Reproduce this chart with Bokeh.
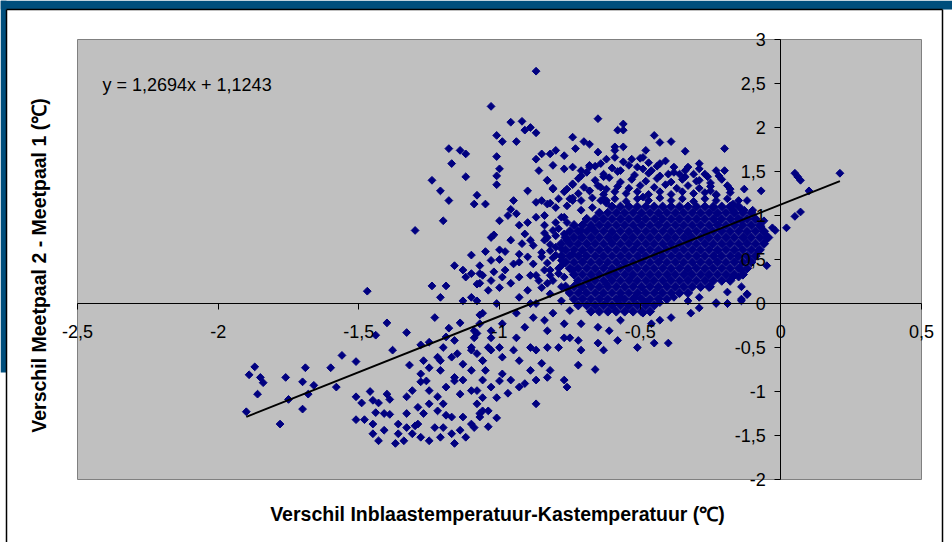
from bokeh.plotting import figure
from bokeh.models import FixedTicker, Label, Range1d
from bokeh.embed import file_html
from bokeh.resources import INLINE

# ---- axis ticks / labels ----
x_ticks = [-2.5, -2.0, -1.5, -1.0, -0.5, 0.0, 0.5]
x_tick_labels = ["-2,5", "-2", "-1,5", "-1", "-0,5", "0", "0,5"]
y_ticks = [-2.0, -1.5, -1.0, -0.5, 0.0, 0.5, 1.0, 1.5, 2.0, 2.5, 3.0]
y_tick_labels = ["-2", "-1,5", "-1", "-0,5", "0", "0,5", "1", "1,5", "2", "2,5", "3"]

x_title = "Verschil Inblaastemperatuur-Kastemperatuur (\u2103)"
y_title = "Verschil Meetpaal 2 - Meetpaal 1 (\u2103)"

trend_slope = 1.2694
trend_intercept = 1.1243
trend_text = "y = 1,2694x + 1,1243"

# ---- scatter data (x, y) ----
left_tail = [
    (-1.47, 0.14), (-1.87, -0.72), (-1.89, -0.81), (-1.85, -0.84), (-1.84, -0.90),
    (-1.86, -1.03), (-1.90, -1.23), (-1.76, -0.84), (-1.69, -0.73), (-1.70, -0.89),
    (-1.66, -0.93), (-1.68, -1.03), (-1.75, -1.09), (-1.70, -1.20), (-1.78, -1.37),
    (-1.60, -0.73), (-1.56, -0.59), (-1.58, -0.95), (-1.51, -0.66), (-1.40, -0.22),
    (-1.33, -0.33), (-1.44, -0.36), (-1.38, -0.53), (-1.30, 0.83),
]

lower_cluster = [
    (-1.51, -1.06), (-1.49, -1.13), (-1.46, -1.00), (-1.51, -1.32), (-1.48, -1.32),
    (-1.45, -1.10), (-1.43, -1.13), (-1.40, -1.03), (-1.39, -1.09), (-1.44, -1.24),
    (-1.41, -1.25), (-1.39, -1.26), (-1.45, -1.37), (-1.45, -1.48), (-1.43, -1.56),
    (-1.41, -1.44), (-1.36, -1.37), (-1.36, -1.48), (-1.34, -1.56), (-1.33, -1.41),
    (-1.33, -1.25), (-1.31, -1.48), (-1.29, -1.37), (-1.28, -1.52), (-1.25, -1.56),
    (-1.23, -1.41), (-1.21, -1.52), (-1.20, -1.41), (-1.17, -1.48), (-1.16, -1.59),
    (-1.14, -1.44), (-1.12, -1.52), (-1.10, -1.37), (-1.13, -1.29), (-1.17, -1.29),
    (-1.22, -1.22), (-1.27, -1.25), (-1.25, -1.14), (-1.20, -1.14), (-1.29, -1.18),
    (-1.33, -1.06), (-1.31, -0.99), (-1.28, -0.89), (-1.28, -0.80), (-1.27, -0.65),
    (-1.28, -0.47), (-1.25, -0.44), (-1.25, -0.73), (-1.22, -0.61), (-1.21, -0.76),
    (-1.20, -0.50), (-1.19, -0.38), (-1.17, -0.61), (-1.15, -0.57), (-1.13, -0.69),
    (-1.10, -0.50), (-1.08, -0.34), (-1.09, -0.31), (-1.16, -0.84), (-1.13, -0.87),
    (-1.10, -0.76), (-1.19, -0.95), (-1.14, -1.03), (-1.08, -0.99), (-1.06, -0.87),
    (-1.06, -0.65), (-1.04, -0.50), (-1.06, -1.22), (-1.07, -1.29), (-1.25, -0.99),
    (-1.22, -1.06), (-1.13, 0.03), (-1.10, 0.07), (-1.12, 0.30), (-1.07, 0.34),
    (-1.08, 0.22), (-1.07, -0.13), (-1.04, 0.15), (-1.24, 0.20), (-1.19, 0.20),
    (-1.21, 0.07), (-1.23, -0.16), (-1.14, -0.22), (-1.18, -0.28), (-1.32, -0.70),
    (-1.26, -0.88), (-1.21, -0.65), (-1.16, -0.88), (-1.10, -0.99), (-1.19, -1.27),
    (-1.30, -1.39), (-1.37, -1.59), (-1.05, -0.76), (-1.00, -0.88), (-1.16, -0.42),
    (-1.10, -0.53), (-1.03, -0.31),
]

upper_scatter = [
    (-0.87, 2.64), (-1.03, 2.24), (-0.96, 2.06), (-0.92, 2.07), (-0.91, 1.97),
    (-0.89, 2.00), (-0.87, 1.94), (-1.01, 1.91), (-0.99, 1.84), (-0.94, 1.84),
    (-0.65, 2.10), (-1.18, 1.76), (-1.14, 1.74), (-1.12, 1.70), (-1.17, 1.59),
    (-1.01, 1.67), (-1.00, 1.53), (-1.12, 1.44), (-1.24, 1.40), (-1.01, 1.45),
    (-1.01, 1.35), (-1.21, 1.28), (-1.18, 1.17), (-1.08, 1.23), (-1.09, 1.13),
    (-1.05, 1.13), (-1.20, 0.94), (-0.95, 1.17), (-0.96, 1.07), (-0.97, 1.00),
    (-0.94, 1.02), (-0.90, 0.92), (-0.87, 1.15), (-0.87, 0.98), (-0.84, 1.00),
    (-0.83, 1.13), (-0.80, 1.09), (-0.79, 1.19), (-0.76, 1.30), (-0.81, 1.30),
    (-0.86, 1.51), (-0.87, 1.64), (-0.85, 1.70), (-0.83, 1.40), (-0.80, 1.74),
    (-0.77, 1.68), (-0.81, 1.57), (-0.77, 1.53), (-0.74, 1.89), (-0.73, 1.76),
    (-0.70, 1.84), (-0.68, 1.81), (-0.65, 1.72), (-0.74, 1.55), (-0.71, 1.45),
    (-0.68, 1.55), (-0.64, 1.59), (-0.59, 1.74), (-0.58, 1.97), (-0.63, 1.44),
    (-0.68, 1.28), (-0.64, 1.17), (-0.67, 1.09), (-0.62, 1.17), (-0.74, 1.17),
    (-0.71, 1.06), (-0.77, 0.98), (-0.81, 0.83), (-0.83, 0.75), (-0.91, 0.79),
    (-0.92, 0.68), (-0.88, 0.66), (-0.90, 0.53), (-0.93, 0.56), (-0.88, 0.45),
    (-0.85, 0.53), (-0.84, 0.38), (-0.80, 0.64), (-0.78, 0.49), (-0.76, 0.72),
    (-0.74, 0.56), (-0.71, 0.83), (-0.69, 0.68), (-0.74, 0.38), (-1.03, 0.75),
    (-1.02, 0.78), (-1.05, 0.59), (-1.00, 0.61), (-0.98, 0.59), (-1.00, 0.50),
    (-0.95, 0.45), (-1.16, 0.43), (-1.13, 0.38), (-1.10, 0.34), (-1.06, 0.32),
    (-1.02, 0.36), (-0.99, 0.30), (-0.93, 0.30), (-0.89, 0.32), (-0.82, 0.32),
    (-0.77, 0.30), (-0.90, 1.28), (-0.85, 1.17), (-0.84, 0.89), (-0.89, 0.72),
    (-0.93, 0.89), (-0.96, 0.72), (-1.00, 0.94), (-1.03, 0.49), (-0.98, 0.38),
    (-0.93, 0.47), (-0.87, 0.32), (-0.82, 0.60), (-0.80, 0.77), (-0.78, 0.43),
    (-1.10, 0.55), (-1.07, 0.43),
]

right_scatter = [
    (-0.82, 1.70), (-0.83, 1.40), (-0.81, 1.31), (-0.82, 1.14), (-0.78, 0.98),
    (-0.76, 1.11), (-0.74, 1.20), (-0.74, 1.36), (-0.71, 1.51), (-0.68, 1.57),
    (-0.64, 1.32), (-0.62, 1.14), (-0.67, 0.86), (-0.71, 0.75), (-0.84, 0.72),
    (-0.81, 0.52), (-0.82, 0.38), (-0.56, 2.04), (-0.56, 1.97), (-0.45, 1.91),
    (-0.43, 1.83), (-0.39, 1.84), (-0.34, 1.73), (-0.20, 1.76), (-0.29, 1.59),
    (-0.23, 1.51), (-0.20, 1.51), (-0.13, 1.30), (-0.07, 1.28), (-0.23, 1.23),
    (-0.18, 1.30), (0.05, 1.48), (0.06, 1.44), (0.07, 1.40), (0.10, 1.28),
    (0.21, 1.48), (0.07, 1.04), (0.05, 0.99), (0.02, 0.86), (-0.03, 0.86),
    (-0.02, 0.83), (-0.05, 0.43), (-0.12, 0.10), (-0.14, 0.05), (-0.19, 0.00),
    (-0.23, 0.01), (-0.07, 0.87), (-0.10, 1.06), (-0.13, 1.06), (-0.17, 1.06),
    (-0.17, 1.13), (-0.24, 1.09), (-0.26, 1.44), (-0.29, 1.40), (-0.34, 1.51),
    (-0.38, 1.55), (-0.40, 1.47), (-0.49, 1.66), (-0.48, 1.74), (-0.53, 1.64),
    (-0.59, 1.78), (-0.59, 1.66), (-0.56, 1.78), (-0.57, 1.51), (-0.51, 1.55),
    (-0.46, 1.51), (-0.43, 1.59), (-0.36, 1.47), (-0.31, 1.47), (-0.49, 1.21),
    (-0.25, 1.28), (-0.12, 1.17), (-0.14, 0.94), (-0.06, 0.94), (-0.05, 0.75),
    (-0.08, 0.60), (-0.11, 0.49), (-0.14, 0.38), (-0.17, 0.30), (-0.14, 0.19),
    (-0.19, 0.13), (-0.25, 0.19), (-0.29, 0.07), (-0.33, 0.03), (-0.38, 0.07),
    (-0.43, 0.01), (-0.48, 0.01), (-0.52, 0.07), (-0.57, 0.07), (-0.62, 0.22),
]

lower_mid = [
    (-1.07, 0.23), (-1.08, 0.03), (-1.06, -0.11), (-1.01, 0.00), (-0.96, 0.23),
    (-0.93, 0.07), (-0.94, -0.11), (-0.87, 0.00), (-0.88, -0.16), (-0.83, 0.23),
    (-0.81, -0.11), (-0.78, 0.03), (-0.77, -0.23), (-0.75, -0.08), (-0.71, -0.23),
    (-0.65, -0.27), (-0.61, -0.31), (-0.57, -0.19), (-0.65, -0.45), (-0.63, -0.53),
    (-0.58, -0.42), (-0.51, -0.50), (-0.45, -0.45), (-0.40, -0.45), (-0.43, -0.19),
    (-0.39, -0.16), (-0.49, -0.11), (-0.46, -0.23), (-0.32, -0.11), (-0.29, -0.05),
    (-0.23, 0.00), (-0.19, 0.00), (-0.14, 0.03), (-0.12, 0.11), (-0.15, 0.30),
    (-0.72, -0.42), (-0.71, -0.53), (-0.75, -0.39), (-0.77, -0.39), (-0.79, -0.50),
    (-0.72, -0.70), (-0.66, -0.75), (-0.83, -0.50), (-0.87, -0.53), (-0.89, -0.50),
    (-0.85, -0.68), (-0.89, -0.76), (-0.93, -0.65), (-0.95, -0.53), (-0.99, -0.61),
    (-1.00, -0.50), (-1.03, -0.53), (-1.06, -0.65), (-1.08, -0.57), (-0.83, -0.84),
    (-0.87, -0.87), (-0.82, -0.76), (-0.77, -0.87), (-0.76, -0.95), (-0.91, -0.91),
    (-0.93, -0.95), (-0.96, -0.87), (-0.99, -0.80), (-0.97, -1.02), (-1.01, -1.07),
    (-1.03, -0.95), (-1.06, -1.07), (-1.08, -1.14), (-1.04, -1.22), (-1.01, -1.30),
    (-1.07, -1.25), (-1.04, -1.40), (-0.87, -1.14), (-1.09, -1.41), (-0.94, -0.39),
    (-0.91, -0.27), (-0.99, -0.23), (-1.03, -0.39), (-0.83, -0.31), (-0.84, -0.19),
    (-0.89, 0.00), (-1.00, 0.18), (-1.03, 0.26), (-0.90, 0.15), (-0.85, 0.18),
    (-0.82, 0.11), (-1.09, -0.39), (-1.07, -0.23),
]

# upper, half-filled part of the main cloud
core_upper = [
    (-0.62, 1.64), (-0.56, 1.61), (-0.50, 1.65), (-0.47, 1.60), (-0.41, 1.62),
    (-0.66, 1.56), (-0.60, 1.54), (-0.54, 1.57), (-0.49, 1.53), (-0.44, 1.56),
    (-0.33, 1.55), (-0.29, 1.53),
    (-0.69, 1.49), (-0.63, 1.47), (-0.58, 1.50), (-0.52, 1.46), (-0.47, 1.48),
    (-0.43, 1.45), (-0.38, 1.49), (-0.34, 1.44), (-0.27, 1.47), (-0.22, 1.45),
    (-0.72, 1.42), (-0.66, 1.40), (-0.61, 1.43), (-0.57, 1.38), (-0.53, 1.41),
    (-0.48, 1.39), (-0.44, 1.42), (-0.39, 1.38), (-0.35, 1.41), (-0.30, 1.39),
    (-0.25, 1.37), (-0.21, 1.41),
    (-0.74, 1.35), (-0.70, 1.32), (-0.65, 1.34), (-0.62, 1.30), (-0.58, 1.33),
    (-0.54, 1.31), (-0.50, 1.34), (-0.45, 1.32), (-0.41, 1.35), (-0.37, 1.31),
    (-0.33, 1.34), (-0.29, 1.31), (-0.25, 1.33), (-0.19, 1.34),
    (-0.77, 1.27), (-0.72, 1.25), (-0.68, 1.28), (-0.63, 1.24), (-0.59, 1.27),
    (-0.55, 1.25), (-0.51, 1.27), (-0.47, 1.24), (-0.43, 1.27), (-0.39, 1.24),
    (-0.35, 1.27), (-0.31, 1.25), (-0.27, 1.26), (-0.23, 1.24), (-0.18, 1.26),
    (-0.75, 1.19), (-0.71, 1.17), (-0.67, 1.20), (-0.63, 1.18), (-0.59, 1.19),
    (-0.55, 1.16), (-0.51, 1.19), (-0.47, 1.17), (-0.43, 1.20), (-0.39, 1.17),
    (-0.35, 1.19), (-0.31, 1.16), (-0.27, 1.19), (-0.23, 1.17), (-0.19, 1.19),
    (-0.15, 1.17),
]

# left, half-filled flank of the main cloud
core_left = [
    (-0.80, 0.92), (-0.84, 0.80), (-0.79, 0.85), (-0.82, 0.67), (-0.78, 0.62),
    (-0.85, 0.58), (-0.80, 0.55), (-0.83, 0.46), (-0.79, 0.40), (-0.81, 0.26),
    (-0.78, 0.19), (-0.79, 0.34), (-0.86, 0.26), (-0.76, 0.92), (-0.77, 0.79),
]

# solid centre of the cloud, read row by row (y value, x values along that row)
core_rows_y = [1.10, 1.03, 0.96, 0.89, 0.82, 0.75, 0.68, 0.61, 0.54,
               0.47, 0.40, 0.33, 0.26, 0.19, 0.12, 0.05, -0.02, -0.09]
core_rows_x = [
    [-0.60, -0.57, -0.54, -0.51, -0.48, -0.45, -0.42, -0.39, -0.36, -0.33, -0.30, -0.27, -0.24,
     -0.21, -0.18, -0.15],
    [-0.645, -0.615, -0.585, -0.555, -0.525, -0.495, -0.465, -0.435, -0.405, -0.375,
     -0.345, -0.315, -0.285, -0.255, -0.225, -0.195, -0.165, -0.135, -0.105],
    [-0.69, -0.66, -0.63, -0.60, -0.57, -0.54, -0.51, -0.48, -0.45, -0.42, -0.39, -0.36,
     -0.33, -0.30, -0.27, -0.24, -0.21, -0.18, -0.15, -0.12, -0.09],
    [-0.735, -0.705, -0.675, -0.645, -0.615, -0.585, -0.555, -0.525, -0.495, -0.465,
     -0.435, -0.405, -0.375, -0.345, -0.315, -0.285, -0.255, -0.225, -0.195, -0.165, -0.135, -0.105, -0.075],
    [-0.75, -0.72, -0.69, -0.66, -0.63, -0.60, -0.57, -0.54, -0.51, -0.48, -0.45, -0.42,
     -0.39, -0.36, -0.33, -0.30, -0.27, -0.24, -0.21, -0.18, -0.15, -0.12, -0.09, -0.06],
    [-0.765, -0.735, -0.705, -0.675, -0.645, -0.615, -0.585, -0.555, -0.525, -0.495,
     -0.465, -0.435, -0.405, -0.375, -0.345, -0.315, -0.285, -0.255, -0.225, -0.195, -0.165, -0.135,
     -0.105, -0.075, -0.045],
    [-0.78, -0.75, -0.72, -0.69, -0.66, -0.63, -0.60, -0.57, -0.54, -0.51, -0.48, -0.45,
     -0.42, -0.39, -0.36, -0.33, -0.30, -0.27, -0.24, -0.21, -0.18, -0.15, -0.12, -0.09, -0.06],
    [-0.765, -0.735, -0.705, -0.675, -0.645, -0.615, -0.585, -0.555, -0.525, -0.495,
     -0.465, -0.435, -0.405, -0.375, -0.345, -0.315, -0.285, -0.255, -0.225, -0.195, -0.165, -0.135,
     -0.105, -0.075],
    [-0.78, -0.75, -0.72, -0.69, -0.66, -0.63, -0.60, -0.57, -0.54, -0.51, -0.48, -0.45,
     -0.42, -0.39, -0.36, -0.33, -0.30, -0.27, -0.24, -0.21, -0.18, -0.15, -0.12, -0.09],
    [-0.765, -0.735, -0.705, -0.675, -0.645, -0.615, -0.585, -0.555, -0.525, -0.495,
     -0.465, -0.435, -0.405, -0.375, -0.345, -0.315, -0.285, -0.255, -0.225, -0.195, -0.165, -0.135, -0.105],
    [-0.75, -0.72, -0.69, -0.66, -0.63, -0.60, -0.57, -0.54, -0.51, -0.48, -0.45, -0.42,
     -0.39, -0.36, -0.33, -0.30, -0.27, -0.24, -0.21, -0.18, -0.15, -0.12],
    [-0.735, -0.705, -0.675, -0.645, -0.615, -0.585, -0.555, -0.525, -0.495, -0.465, -0.435,
     -0.405, -0.375, -0.345, -0.315, -0.285, -0.255, -0.225, -0.195, -0.165, -0.135],
    [-0.72, -0.69, -0.66, -0.63, -0.60, -0.57, -0.54, -0.51, -0.48, -0.45, -0.42, -0.39, -0.36,
     -0.33, -0.30, -0.27, -0.24, -0.21, -0.18],
    [-0.765, -0.735, -0.705, -0.675, -0.645, -0.615, -0.585, -0.555, -0.525, -0.495, -0.465, -0.435,
     -0.405, -0.375, -0.345, -0.315, -0.285, -0.255],
    [-0.75, -0.72, -0.69, -0.66, -0.63, -0.60, -0.57, -0.54, -0.51, -0.48, -0.45, -0.42, -0.39, -0.36,
     -0.33],
    [-0.735, -0.705, -0.675, -0.645, -0.615, -0.585, -0.555, -0.525, -0.495, -0.465, -0.435, -0.405],
    [-0.72, -0.69, -0.66, -0.63, -0.60, -0.57, -0.54, -0.51, -0.48, -0.45],
    [-0.675, -0.645, -0.615, -0.585, -0.555, -0.525, -0.495, -0.465],
]

# ---- assemble ----
sx, sy = [], []
for group in (left_tail, lower_cluster, upper_scatter, right_scatter, lower_mid,
              core_upper, core_left):
    for x, y in group:
        sx.append(x)
        sy.append(y)
cx, cy = [], []
for y, row in zip(core_rows_y, core_rows_x):
    for x in row:
        cx.append(x)
        cy.append(y)

# ---- page geometry (pixels) ----
W, H = 952, 542
PL, PR, PT, PB = 77, 921, 39, 479          # grey plot area edges
X0, X1, Y0, Y1 = -2.5, 0.5, -2.0, 3.0       # data limits of the grey area
kx = (PR - PL) / (X1 - X0)
ky = (PB - PT) / (Y1 - Y0)


def px_x(px):
    return X0 + (px - PL) / kx


def px_y(py):
    return Y1 - (py - PT) / ky


p = figure(width=W, height=H,
           x_range=Range1d(px_x(0), px_x(W)), y_range=Range1d(px_y(H), px_y(0)),
           output_backend="svg", toolbar_location=None, title=None,
           min_border=0, background_fill_color="white", border_fill_color="white",
           outline_line_color=None)
p.grid.visible = False

# slide frame: dark blue band on top / left, black border of the chart box
SLIDE = "#004E7C"
p.quad(left=[px_x(0), px_x(0)], right=[px_x(W), px_x(6)],
       top=[px_y(0), px_y(0)], bottom=[px_y(9), px_y(372)],
       fill_color=SLIDE, line_color=None)
p.segment(x0=[px_x(6), px_x(6), px_x(942)], y0=[px_y(9), px_y(9), px_y(9)],
          x1=[px_x(942), px_x(6), px_x(942)], y1=[px_y(9), px_y(H), px_y(H)],
          line_color="black", line_width=1.5)

# grey plot area
p.quad(left=[X0], right=[X1], bottom=[Y0], top=[Y1],
       fill_color="#C0C0C0", line_color="#808080", line_width=1)

NAVY = "#000080"
p.scatter(sx, sy, marker="square", size=5.5, angle=45, angle_units="deg",
          fill_color=NAVY, line_color=NAVY, line_width=1)
p.scatter(cx, cy, marker="square", size=6.6, angle=45, angle_units="deg",
          fill_color=NAVY, line_color=NAVY, line_width=1)

# trend line over the data range
all_x = sx + cx
tx = [min(all_x), max(all_x)]
ty = [trend_slope * v + trend_intercept for v in tx]
p.line(tx, ty, line_color="black", line_width=2)

p.add_layout(Label(x=px_x(102), y=px_y(84), text=trend_text, text_baseline="middle",
                   text_align="left", text_font="Liberation Sans", text_font_size="18px",
                   text_color="black"))

# axes crossing at zero
for ax in (p.xaxis[0], p.yaxis[0]):
    ax.fixed_location = 0
    ax.axis_line_color = "black"
    ax.axis_line_width = 1
    ax.major_tick_line_color = "black"
    ax.major_tick_out = 6
    ax.major_tick_in = 0
    ax.minor_tick_line_color = None
    ax.major_label_text_font = "Liberation Sans"
    ax.major_label_text_font_size = "18px"
    ax.major_label_text_color = "black"

p.xaxis[0].bounds = (X0, X1)
p.yaxis[0].bounds = (Y0, Y1)
p.xaxis[0].ticker = FixedTicker(ticks=x_ticks)
p.xaxis[0].major_label_overrides = {t: s for t, s in zip(x_ticks, x_tick_labels)}
p.xaxis[0].major_label_standoff = 15
p.yaxis[0].ticker = FixedTicker(ticks=y_ticks)
p.yaxis[0].major_label_overrides = {t: s for t, s in zip(y_ticks, y_tick_labels)}
p.yaxis[0].major_label_standoff = 9

# axis titles
p.add_layout(Label(x=px_x(497), y=px_y(513), text=x_title, text_align="center",
                   text_baseline="middle", text_font="Liberation Sans",
                   text_font_size="19.5px", text_font_style="bold", text_color="black"))
p.add_layout(Label(x=px_x(38), y=px_y(265), text=y_title, text_align="center",
                   text_baseline="middle", angle=90, angle_units="deg",
                   text_font="Liberation Sans", text_font_size="19.5px",
                   text_font_style="bold", text_color="black"))

open("out.html", "w").write(file_html(p, INLINE))
